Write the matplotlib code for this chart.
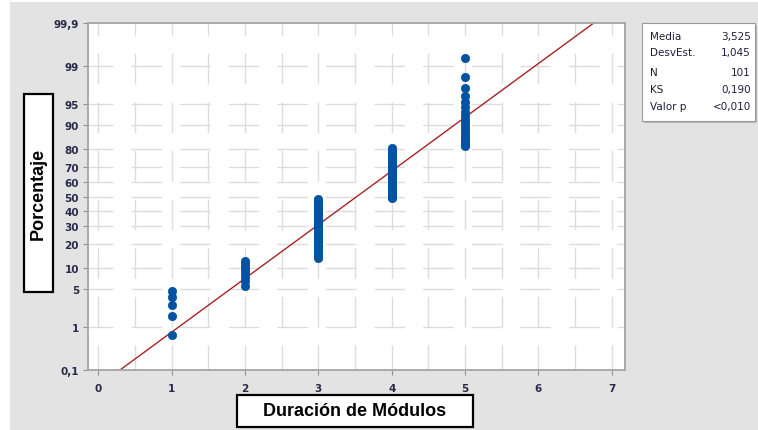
import numpy as np
import matplotlib
matplotlib.use("Agg")
import matplotlib.pyplot as plt
from matplotlib.patches import Rectangle
from statistics import NormalDist

# Data: module durations and how many of the 101 observations fall on each
durations = [1, 2, 3, 4, 5]
counts = [5, 8, 36, 33, 19]

# Fitted normal and test results (from the stats box)
media = 3.525
desv = 1.045
stat_labels = ["Media", "DesvEst.", "N", "KS", "Valor p"]
stat_values = ["3,525", "1,045", "101", "0,190", "<0,010"]

pct_ticks = [0.1, 1, 5, 10, 20, 30, 40, 50, 60, 70, 80, 90, 95, 99, 99.9]
pct_labels = ["0,1", "1", "5", "10", "20", "30", "40", "50", "60", "70", "80", "90", "95", "99", "99,9"]
x_ticks = [0, 1, 2, 3, 4, 5, 6, 7]

nd = NormalDist()


def fwd(p):
    p = np.clip(np.asarray(p, dtype=float), 1e-6, 100 - 1e-6)
    return np.vectorize(lambda v: nd.inv_cdf(v / 100), otypes=[float])(p)


def inv(z):
    return np.vectorize(lambda v: 100 * nd.cdf(v), otypes=[float])(np.asarray(z, dtype=float))


# median-rank plotting positions (Minitab style)
values = np.repeat(durations, counts)
n = len(values)
ranks = np.arange(1, n + 1)
pcts = (ranks - 0.3) / (n + 0.4) * 100

W, H = 758, 431
fig = plt.figure(figsize=(W / 100, H / 100), dpi=100, facecolor="white")
fig.patches.append(Rectangle((10 / W, 0), 1 - 10 / W, (H - 3) / H, transform=fig.transFigure,
                             facecolor="#e3e3e3", edgecolor="none", zorder=-5))

ax = fig.add_axes([88 / W, 1 - 371 / H, (625 - 88) / W, (371 - 24) / H])
ax.set_zorder(1)
ax.set_facecolor("white")
ax.set_yscale("function", functions=(fwd, inv))
ax.set_ylim(0.1, 99.9)
ax.set_xlim(-0.14, 7.18)

grid_kw = dict(color="#dcdcdc", lw=1.0, linestyle=(4, (22, 13)), zorder=1)
for gx in np.arange(0, 7.5, 0.5):
    ax.axvline(gx, **grid_kw)
for gy in pct_ticks[1:-1]:
    ax.axhline(gy, **grid_kw)

# fitted line: straight on the probability scale, drawn end to end
z_lo, z_hi = nd.inv_cdf(0.001), nd.inv_cdf(0.999)
ax.plot([media + desv * z_lo, media + desv * z_hi], [0.1, 99.9], color="#a82224", lw=1.0, zorder=2)

ax.plot(values, pcts, "o", color="#0052a3", ms=6, mec="#0052a3", mew=0.5, zorder=3, clip_on=False)

ax.set_yticks(pct_ticks)
ax.set_yticklabels(pct_labels)
ax.set_xticks(x_ticks)
ax.yaxis.set_minor_locator(matplotlib.ticker.NullLocator())
ax.tick_params(axis="both", length=3.5, width=0.8, color="#909090", labelsize=7.5,
               labelcolor="#2a2a48", pad=3)
ax.tick_params(axis="x", pad=6)
for lab in ax.get_xticklabels() + ax.get_yticklabels():
    lab.set_fontweight("bold")
for sp in ax.spines.values():
    sp.set_color("#a4a4a4")
    sp.set_linewidth(1.3)

# axis label boxes
fig.patches.append(Rectangle((24 / W, 1 - 293 / H), 29 / W, 198 / H, transform=fig.transFigure,
                             facecolor="white", edgecolor="black", lw=1.6, zorder=2))
fig.text(38.5 / W, 1 - 194 / H, "Porcentaje", rotation=90, ha="center", va="center",
         fontsize=13, fontweight="bold", family="Liberation Sans", zorder=3)
fig.patches.append(Rectangle((237 / W, 1 - 428 / H), 236 / W, 32 / H, transform=fig.transFigure,
                             facecolor="white", edgecolor="black", lw=1.6, zorder=2))
fig.text(355 / W, 1 - 412 / H, "Duración de Módulos", ha="center", va="center",
         fontsize=13, fontweight="bold", family="Liberation Sans", zorder=3)

# stats box
fig.patches.append(Rectangle((644 / W, 1 - 124 / H), 113 / W, 98 / H, transform=fig.transFigure,
                             facecolor="#b8b8b8", edgecolor="none", zorder=2))
fig.patches.append(Rectangle((642 / W, 1 - 122 / H), 113 / W, 98 / H, transform=fig.transFigure,
                             facecolor="white", edgecolor="#9a9a9a", lw=0.8, zorder=3))
row_y = [37, 53, 73, 90, 107]
for lab, val, yy in zip(stat_labels, stat_values, row_y):
    fig.text(650 / W, 1 - yy / H, lab, ha="left", va="center", fontsize=7.5,
             color="#1e1e3c", zorder=4)
    fig.text(751 / W, 1 - yy / H, val, ha="right", va="center", fontsize=7.5,
             color="#1e1e3c", zorder=4)

fig.savefig("out.png", dpi=100)
